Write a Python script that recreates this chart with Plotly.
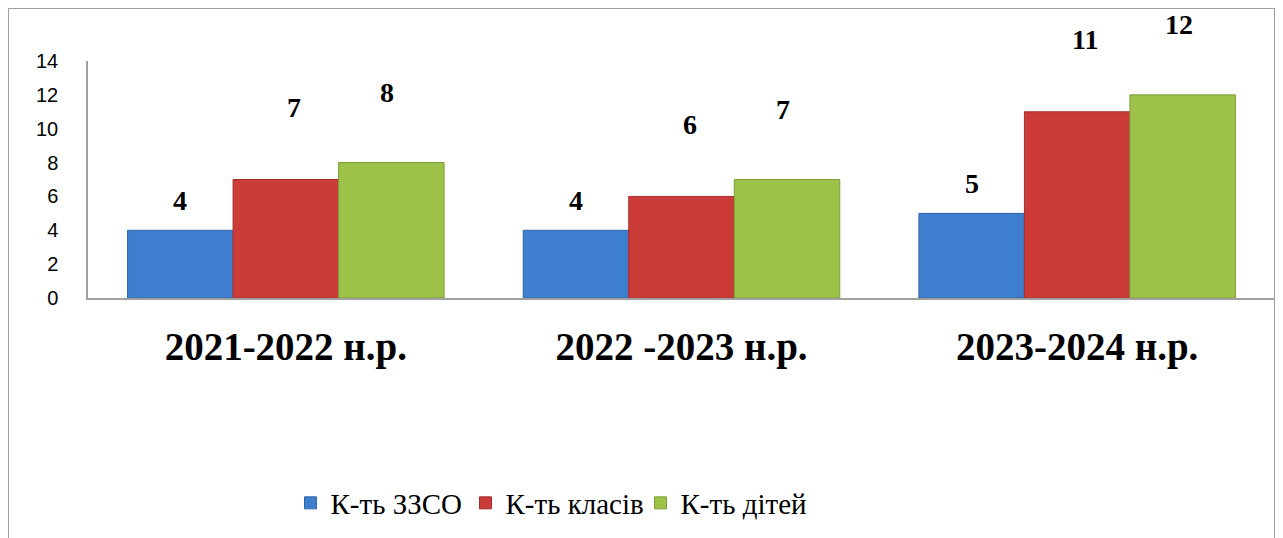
import plotly.graph_objects as go

categories = ["2021-2022 н.р.", "2022 -2023 н.р.", "2023-2024 н.р."]
series_names = ["К-ть ЗЗСО", "К-ть класів", "К-ть дітей"]
zzso = [4, 4, 5]
klasiv = [7, 6, 11]
ditey = [8, 7, 12]
y_ticks = [0, 2, 4, 6, 8, 10, 12, 14]

series_values = [zzso, klasiv, ditey]
colors = ["#3E7ECF", "#CB3C39", "#9CC24A"]
line_colors = ["#2F64A8", "#A52E2C", "#7E9E38"]
label_shift = [30, 72, 70]
label_xshift = [0, 8, -4]

# page has an 8px body margin, so the figure sits at (8, 8)
W, H = 1275, 530
ML, MR, MT, MB = 80, 8, 53, 240
pw = W - ML - MR
ph = H - MT - MB

serif = "Liberation Serif"

fig = go.Figure()
for name, vals, c, lc in zip(series_names, series_values, colors, line_colors):
    fig.add_trace(go.Bar(
        x=categories, y=vals, name=name,
        marker=dict(color=c, line=dict(color=lc, width=1)),
    ))

annotations = []
n = len(series_names)
bargap = 0.2
bw = (1 - bargap) / n
for si, (vals, sh, xs) in enumerate(zip(series_values, label_shift, label_xshift)):
    for ci, v in enumerate(vals):
        xpos = ci - (1 - bargap) / 2 + bw * (si + 0.5)
        annotations.append(dict(
            x=xpos, y=v, xref="x", yref="y", text=f"<b>{v}</b>",
            showarrow=False, yanchor="middle", yshift=sh, xshift=xs,
            font=dict(family=serif, size=28, color="black"),
        ))

fig.add_shape(
    type="rect", xref="paper", yref="paper",
    x0=(0 - ML) / pw, x1=(1267 - ML) / pw,
    y0=(H - MB - 560) / ph, y1=(H - MB - 0) / ph,
    line=dict(color="#A0A0A0", width=2), fillcolor="rgba(0,0,0,0)", layer="below",
)

fig.update_layout(
    width=W, height=H,
    font=dict(family=serif, color="black"),
    margin=dict(l=ML, r=MR, t=MT, b=MB, pad=0),
    paper_bgcolor="white", plot_bgcolor="white",
    barmode="group", bargap=bargap, bargroupgap=0,
    annotations=annotations,
    showlegend=True,
    legend=dict(
        orientation="h", x=(545 - ML) / pw, xanchor="center",
        y=-(495 - (H - MB)) / ph, yanchor="middle",
        font=dict(family=serif, size=29, color="black"),
        traceorder="normal", entrywidth=130, entrywidthmode="pixels",
    ),
    xaxis=dict(
        showline=True, linecolor="#A0A0A0", linewidth=1.5,
        showgrid=False, ticks="", ticklabelstandoff=13,
        tickfont=dict(family=serif, size=39, color="black"),
        tickprefix="<b>", ticksuffix="</b>",
    ),
    yaxis=dict(
        range=[0, 14], tickvals=y_ticks, showline=True, linecolor="#A0A0A0",
        linewidth=1.5, showgrid=False, zeroline=False, ticks="",
        ticklabelstandoff=24,
        tickfont=dict(family="Liberation Sans", size=20, color="black"),
    ),
)

fig.write_html("out.html")
